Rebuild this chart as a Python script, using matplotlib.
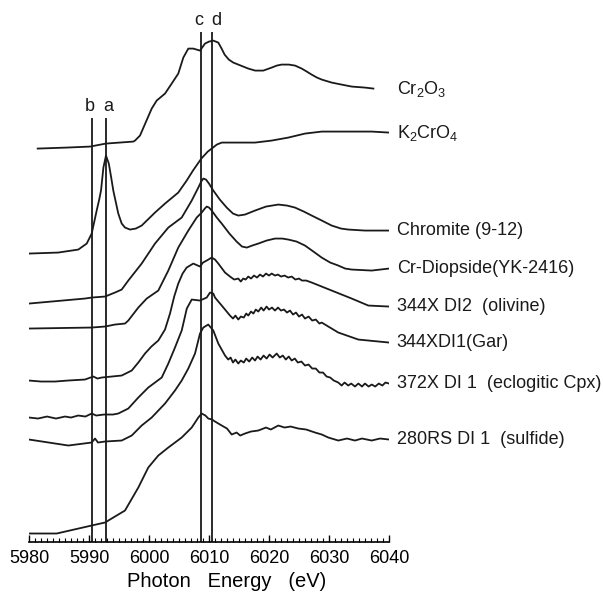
import numpy as np
import matplotlib
matplotlib.use('Agg')
import matplotlib.pyplot as plt
from matplotlib.ticker import MultipleLocator

plt.rcParams['font.family'] = ['Liberation Sans', 'DejaVu Sans']

### Cr K-edge XANES spectra (stacked, arbitrary units)
cr2o3_e = [5981.45, 5986.3, 5990.2, 5992.8, 5997.4, 5997.67, 5998.5, 6000.45, 6001.28, 6002.67,
           6003.78, 6004.88, 6005.72, 6006.55, 6007.38, 6008.5, 6009.33, 6010.0, 6010.7, 6011.55,
           6012.1, 6012.6, 6013.3, 6014.05, 6015.3, 6016.55, 6017.7, 6019.05, 6020.45, 6021.3,
           6022.1, 6023.3, 6024.35, 6025.45, 6026.3, 6027.1, 6028.0, 6028.8, 6030.45, 6032.1,
           6033.8, 6036.0, 6037.4]
cr2o3_y = [3.93, 3.94, 3.95, 3.98, 4.00, 4.01, 4.06, 4.33, 4.41, 4.48,
           4.58, 4.68, 4.84, 4.93, 4.93, 4.91, 4.98, 5.00, 5.01, 4.99,
           4.93, 4.87, 4.82, 4.79, 4.76, 4.73, 4.71, 4.71, 4.74, 4.76,
           4.77, 4.77, 4.76, 4.73, 4.70, 4.67, 4.64, 4.62, 4.59, 4.57,
           4.55, 4.54, 4.53]

k2cro4_e = [5980.0, 5984.88, 5988.22, 5989.62, 5990.45, 5991.28, 5991.7, 5992.0, 5992.4, 5992.83,
            5993.3, 5993.7, 5994.05, 5994.88, 5995.45, 5996.0, 5996.83, 5997.8, 5998.78, 6001.0,
            6002.67, 6004.88, 6006.28, 6007.33, 6008.72, 6009.8, 6010.67, 6011.3, 6012.12, 6014.88,
            6017.67, 6020.45, 6023.22, 6026.0, 6028.78, 6031.55, 6037.12, 6040.0]
k2cro4_y = [2.88, 2.89, 2.92, 2.98, 3.08, 3.31, 3.42, 3.51, 3.74, 3.86,
            3.78, 3.64, 3.51, 3.28, 3.18, 3.14, 3.12, 3.13, 3.16, 3.29,
            3.38, 3.49, 3.61, 3.71, 3.83, 3.90, 3.94, 3.97, 3.99, 3.99,
            3.99, 4.01, 4.04, 4.08, 4.10, 4.10, 4.10, 4.09]

chromite_e = [5980.0, 5989.33, 5990.45, 5992.67, 5994.33, 5995.45, 5996.55, 5998.78, 6001.0, 6003.22,
              6005.45, 6007.12, 6008.22, 6008.7, 6009.05, 6009.5, 6010.0, 6010.72, 6011.8, 6012.95,
              6014.0, 6014.88, 6016.0, 6017.67, 6019.5, 6021.55, 6023.0, 6024.33, 6025.8, 6027.12,
              6028.8, 6030.45, 6032.0, 6033.22, 6036.0, 6040.0]
chromite_y = [2.38, 2.43, 2.44, 2.45, 2.49, 2.52, 2.61, 2.78, 2.98, 3.14,
              3.24, 3.41, 3.54, 3.60, 3.63, 3.62, 3.58, 3.51, 3.42, 3.34,
              3.28, 3.26, 3.27, 3.31, 3.35, 3.37, 3.36, 3.34, 3.30, 3.26,
              3.21, 3.16, 3.13, 3.12, 3.11, 3.11]

diopside_e = [5980.0, 5990.45, 5992.67, 5994.33, 5996.0, 5996.55, 5998.22, 5999.62, 6001.55, 6003.22,
              6004.88, 6006.55, 6007.95, 6008.78, 6009.3, 6009.62, 6010.0, 6010.45, 6011.3, 6012.12,
              6013.4, 6014.6, 6015.5, 6016.3, 6017.2, 6018.22, 6019.6, 6021.0, 6022.2, 6023.22,
              6024.6, 6026.0, 6027.4, 6028.78, 6030.2, 6031.55, 6032.7, 6033.78, 6037.12, 6040.0]
diopside_y = [2.13, 2.14, 2.15, 2.17, 2.18, 2.21, 2.34, 2.43, 2.51, 2.71,
              2.94, 3.11, 3.24, 3.29, 3.33, 3.35, 3.34, 3.31, 3.24, 3.18,
              3.08, 3.00, 2.95, 2.94, 2.96, 2.98, 3.01, 3.03, 3.03, 3.02,
              3.00, 2.96, 2.90, 2.84, 2.79, 2.76, 2.73, 2.72, 2.71, 2.73]

olivine_e = [5980.0, 5982.0, 5984.33, 5986.5, 5989.33, 5990.72, 5991.4, 5992.12, 5995.45, 5997.12,
             5998.22, 5999.33, 6000.4, 6001.55, 6002.67, 6003.5, 6004.2, 6004.88, 6005.6, 6006.28,
             6007.38, 6008.5, 6009.0, 6009.62, 6010.45, 6011.0, 6011.55, 6012.67, 6013.5, 6014.2,
             6014.88, 6015.3, 6015.7, 6016.1, 6016.55, 6017.0, 6017.5, 6018.0, 6018.5, 6019.0,
             6019.5, 6020.0, 6020.45, 6021.0, 6021.5, 6022.0, 6022.6, 6023.2, 6023.78, 6024.4,
             6025.0, 6025.5, 6026.2, 6027.12, 6030.45, 6033.78, 6036.55, 6040.0]
olivine_y = [1.61, 1.60, 1.60, 1.61, 1.62, 1.65, 1.63, 1.64, 1.66, 1.71,
             1.79, 1.88, 1.95, 2.01, 2.12, 2.28, 2.45, 2.58, 2.68, 2.74,
             2.78, 2.75, 2.79, 2.81, 2.84, 2.82, 2.78, 2.69, 2.65, 2.62,
             2.63, 2.60, 2.63, 2.62, 2.65, 2.63, 2.66, 2.64, 2.67, 2.65,
             2.68, 2.66, 2.68, 2.66, 2.67, 2.65, 2.66, 2.64, 2.65, 2.62,
             2.63, 2.61, 2.61, 2.59, 2.51, 2.43, 2.36, 2.35]

garnet_e = [5980.0, 5981.5, 5983.0, 5984.5, 5986.0, 5987.0, 5988.2, 5989.4, 5990.45, 5991.2,
            5992.5, 5994.0, 5994.88, 5996.55, 5998.22, 5999.88, 6002.12, 6003.22, 6004.33, 6005.45,
            6005.8, 6006.3, 6007.12, 6008.5, 6009.62, 6010.17, 6010.72, 6011.0, 6012.12, 6013.5,
            6014.0, 6014.4, 6014.88, 6015.3, 6015.8, 6016.2, 6016.55, 6017.0, 6017.4, 6017.8,
            6018.22, 6018.7, 6019.1, 6019.6, 6020.0, 6020.5, 6021.0, 6021.5, 6022.0, 6022.5,
            6023.0, 6023.5, 6024.0, 6024.5, 6025.0, 6025.5, 6026.0, 6026.6, 6027.2, 6027.8,
            6028.4, 6028.78, 6031.55, 6034.88, 6040.0]
garnet_y = [1.24, 1.23, 1.25, 1.23, 1.25, 1.24, 1.26, 1.25, 1.28, 1.26,
            1.27, 1.27, 1.28, 1.33, 1.44, 1.54, 1.64, 1.78, 1.94, 2.11,
            2.20, 2.33, 2.42, 2.41, 2.44, 2.49, 2.48, 2.44, 2.36, 2.26,
            2.23, 2.26, 2.22, 2.25, 2.24, 2.28, 2.26, 2.30, 2.28, 2.32,
            2.30, 2.34, 2.31, 2.35, 2.32, 2.34, 2.31, 2.34, 2.31, 2.32,
            2.29, 2.31, 2.27, 2.29, 2.25, 2.27, 2.23, 2.25, 2.21, 2.22,
            2.18, 2.19, 2.09, 2.02, 1.99]

eclogite_e = [5980.0, 5986.55, 5990.45, 5991.0, 5991.5, 5992.67, 5995.45, 5997.12, 5998.78, 6000.45,
              6002.67, 6004.33, 6005.45, 6006.55, 6007.67, 6008.5, 6009.05, 6009.88, 6010.72, 6011.55,
              6012.67, 6013.2, 6013.6, 6014.0, 6014.4, 6014.88, 6015.3, 6015.8, 6016.2, 6016.7,
              6017.2, 6017.67, 6018.1, 6018.6, 6019.1, 6019.6, 6020.1, 6020.6, 6021.28, 6021.8,
              6022.3, 6022.8, 6023.3, 6023.78, 6024.3, 6024.8, 6025.4, 6026.0, 6026.6, 6027.2,
              6027.8, 6028.4, 6029.0, 6029.6, 6030.2, 6030.8, 6031.55, 6032.1, 6032.6, 6033.2,
              6033.7, 6034.33, 6034.9, 6035.5, 6036.0, 6036.6, 6037.12, 6037.7, 6038.3, 6038.9,
              6039.4, 6040.0]
eclogite_y = [1.02, 0.96, 0.99, 1.03, 0.99, 1.00, 1.01, 1.06, 1.16, 1.24,
              1.38, 1.51, 1.61, 1.73, 1.88, 2.08, 2.14, 2.17, 2.11, 1.98,
              1.86, 1.82, 1.84, 1.79, 1.82, 1.78, 1.81, 1.79, 1.83, 1.80,
              1.84, 1.81, 1.85, 1.82, 1.86, 1.83, 1.87, 1.84, 1.88, 1.84,
              1.86, 1.82, 1.85, 1.81, 1.83, 1.79, 1.80, 1.76, 1.77, 1.73,
              1.73, 1.69, 1.69, 1.65, 1.64, 1.61, 1.59, 1.56, 1.59, 1.56,
              1.58, 1.55, 1.58, 1.55, 1.58, 1.55, 1.57, 1.55, 1.58, 1.56,
              1.59, 1.58]

sulfide_e = [5980.0, 5984.62, 5990.45, 5992.67, 5996.0, 5998.22, 5999.88, 6001.55, 6003.22, 6005.45,
             6007.12, 6008.22, 6008.78, 6009.4, 6009.88, 6010.5, 6011.0, 6012.12, 6013.0, 6013.78,
             6014.6, 6015.2, 6016.0, 6017.0, 6018.22, 6019.5, 6020.3, 6021.55, 6022.6, 6023.6,
             6024.88, 6026.2, 6027.67, 6028.8, 6029.88, 6031.55, 6033.0, 6034.33, 6035.5, 6037.12,
             6038.5, 6040.0]
sulfide_y = [0.08, 0.08, 0.16, 0.19, 0.31, 0.54, 0.74, 0.86, 0.94, 1.04,
             1.14, 1.24, 1.28, 1.26, 1.23, 1.22, 1.20, 1.16, 1.13, 1.07,
             1.09, 1.06, 1.08, 1.10, 1.11, 1.14, 1.12, 1.16, 1.14, 1.15,
             1.13, 1.12, 1.09, 1.07, 1.04, 1.01, 1.03, 1.01, 1.03, 1.01,
             1.03, 1.02]

labels = ['Cr$_{\\mathregular{2}}$O$_{\\mathregular{3}}$', 'K$_{\\mathregular{2}}$CrO$_{\\mathregular{4}}$',
          'Chromite (9-12)', 'Cr-Diopside(YK-2416)', '344X DI2  (olivine)', '344XDI1(Gar)',
          '372X DI 1  (eclogitic Cpx)', '280RS DI 1  (sulfide)']

### feature lines
line_names = ['b', 'a', 'c', 'd']
line_e = [5990.45, 5992.8, 6008.7, 6010.55]
line_top = [4.24, 4.24, 5.10, 5.10]
name_shift = [-0.3, 0.35, -0.4, 0.6]

spectra = [(cr2o3_e, cr2o3_y), (k2cro4_e, k2cro4_y), (chromite_e, chromite_y),
           (diopside_e, diopside_y), (olivine_e, olivine_y), (garnet_e, garnet_y),
           (eclogite_e, eclogite_y), (sulfide_e, sulfide_y)]

fig = plt.figure(figsize=(6.03, 5.92), dpi=100)
ax = fig.add_axes([0.0481, 0.0853, 0.597, 0.912])

for (e, y), lab in zip(spectra, labels):
    ax.plot(e, y, color='#1a1a1a', lw=1.3, solid_joinstyle='round')
    ax.text(6041.3, y[-1], lab, fontsize=13, va='center', ha='left', color='#1a1a1a')

ax.vlines(line_e, 0, line_top, color='#1a1a1a', lw=1.3)
for name, e, top, sh in zip(line_names, line_e, line_top, name_shift):
    ax.text(e + sh, top + 0.03, name, fontsize=13, ha='center', va='bottom', color='#1a1a1a')

ax.set_xlim(5980, 6040)
ax.set_ylim(0, 5.40)
for s in ['left', 'right', 'top']:
    ax.spines[s].set_visible(False)
ax.spines['bottom'].set_linewidth(1.2)
ax.set_yticks([])
ax.xaxis.set_major_locator(MultipleLocator(10))
ax.xaxis.set_minor_locator(MultipleLocator(1))
ax.tick_params(axis='x', which='major', direction='in', length=5, width=1, labelsize=13, pad=6)
ax.tick_params(axis='x', which='minor', direction='in', length=3, width=0.8)
ax.set_xlabel('Photon   Energy   (eV)', fontsize=14.5)
ax.xaxis.set_label_coords(0.549, -0.056)

fig.savefig('out.png', dpi=100)
